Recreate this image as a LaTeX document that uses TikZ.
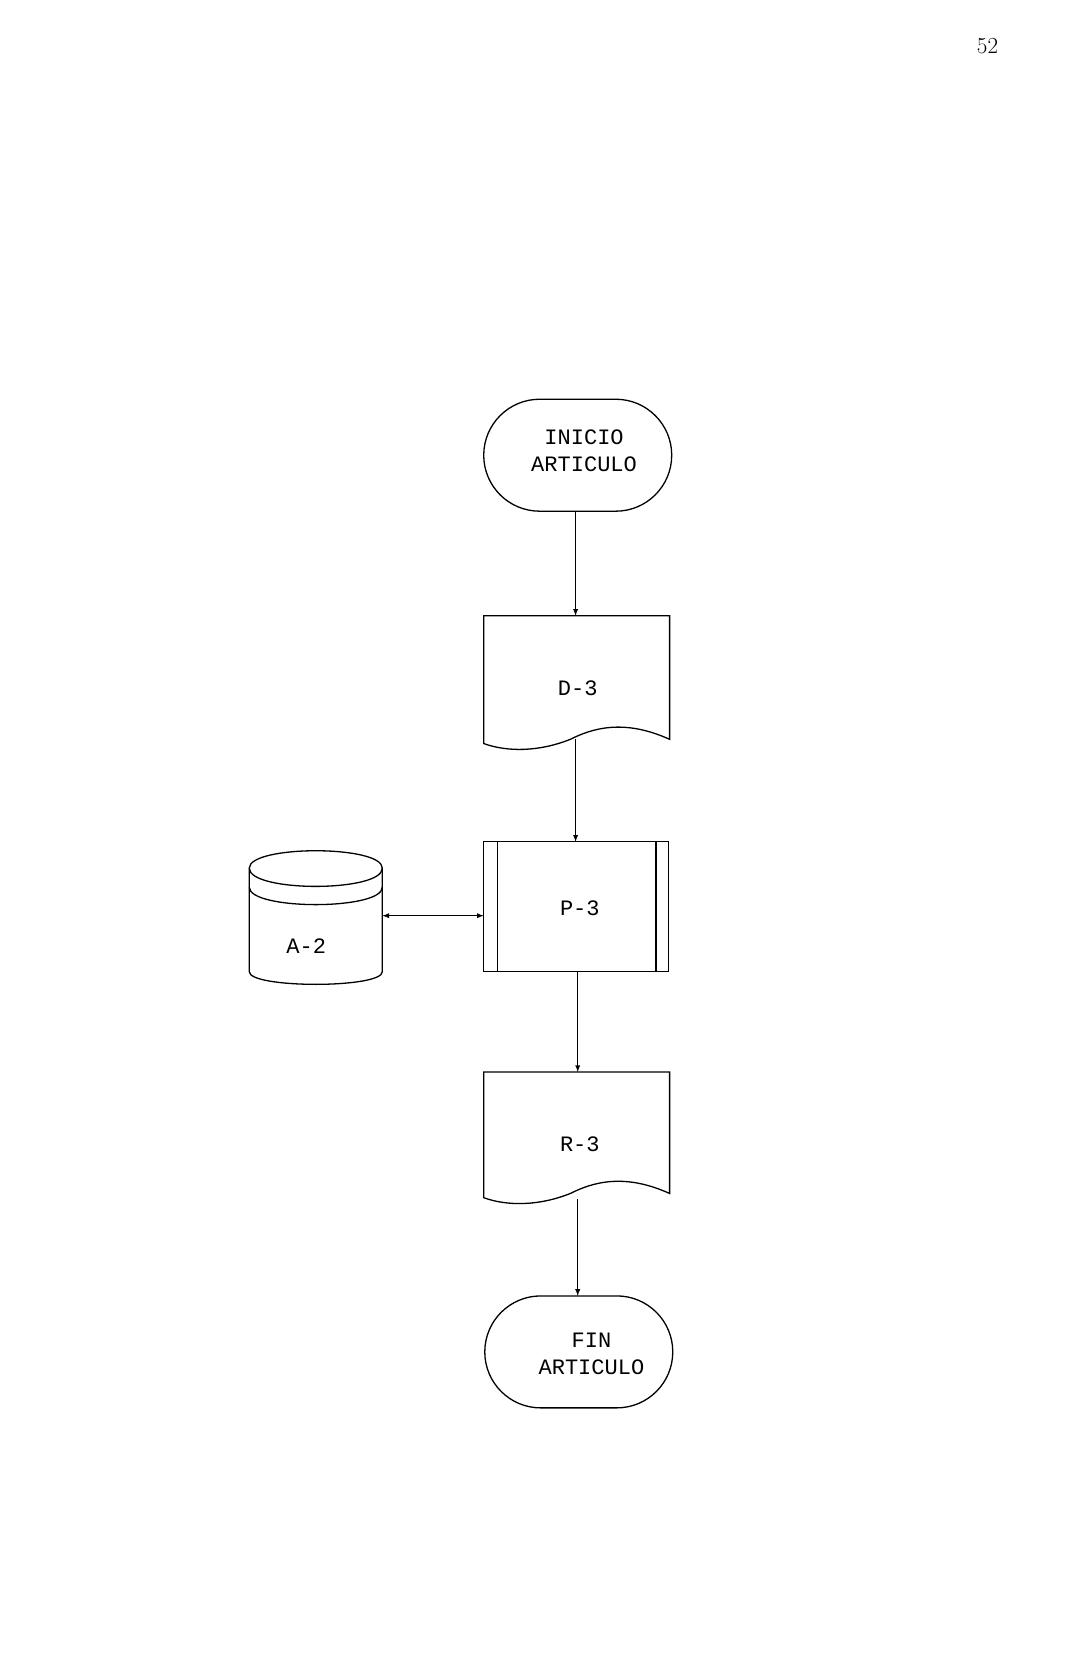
\documentclass[tikz,border=0pt]{standalone}
\usepackage{fontspec}
\setmonofont{Liberation Mono}
\begin{document}
\begin{tikzpicture}[x=1.056pt,y=-1.056pt,line width=1.3pt,
  txt/.style={font=\ttfamily\fontsize{22}{27}\selectfont,align=center},
  arr/.style={-latex}]
\useasboundingbox (0,0) rectangle (1029,1567);
\node[font=\fontsize{23}{25}\selectfont] (pg) at (935,44) {52};
% terminal start
\draw (511,378) -- (583,378) arc[start angle=-90,end angle=90,radius=53] -- (511,484) arc[start angle=90,end angle=270,radius=53] -- cycle;
\node[txt] (ini) at (553,427) {INICIO\\ARTICULO};
\coordinate (iniB) at (545,484);
% D-3
\draw (458,583) -- (634,583) -- (634,700) .. controls (590,680) and (560,690) .. (540,700) .. controls (510,712) and (480,712) .. (458,704) -- cycle;
\node[txt] (d3) at (547,652) {D-3};
\coordinate (d3T) at (545,583); \coordinate (d3B) at (545,700);
% P-3
\draw (458,797) rectangle (633,920);
\draw (471,797) -- (471,920); \draw (621,797) -- (621,920);
\node[txt] (p3) at (549,860) {P-3};
\coordinate (p3T) at (545,797); \coordinate (p3B) at (547,920);
\coordinate (p3L) at (458,867);
% A-2
\draw (236,822) .. controls (236,800) and (362,800) .. (362,822) -- (362,920) .. controls (362,936) and (236,936) .. (236,920) -- cycle;
\draw (236,822) .. controls (236,845) and (362,845) .. (362,822);
\draw (236,840) .. controls (236,862) and (362,862) .. (362,840);
\node[txt] (a2) at (290,896) {A-2};
\coordinate (a2R) at (362,867);
% R-3
\draw (458,1015) -- (634,1015) -- (634,1130) .. controls (590,1110) and (560,1120) .. (540,1130) .. controls (510,1142) and (480,1142) .. (458,1134) -- cycle;
\node[txt] (r3) at (549,1083) {R-3};
\coordinate (r3T) at (547,1015); \coordinate (r3B) at (547,1135);
% terminal end
\draw (512,1227) -- (584,1227) arc[start angle=-90,end angle=90,radius=53] -- (512,1333) arc[start angle=90,end angle=270,radius=53] -- cycle;
\node[txt] (fin) at (560,1282) {FIN\\ARTICULO};
\coordinate (finT) at (547,1227);
% connectors
\draw[arr] (iniB) -- (d3T);
\draw[arr] (d3B) -- (p3T);
\draw[latex-latex] (a2R) -- (p3L);
\draw[arr] (p3B) -- (r3T);
\draw[arr] (r3B) -- (finT);
\end{tikzpicture}
\end{document}
